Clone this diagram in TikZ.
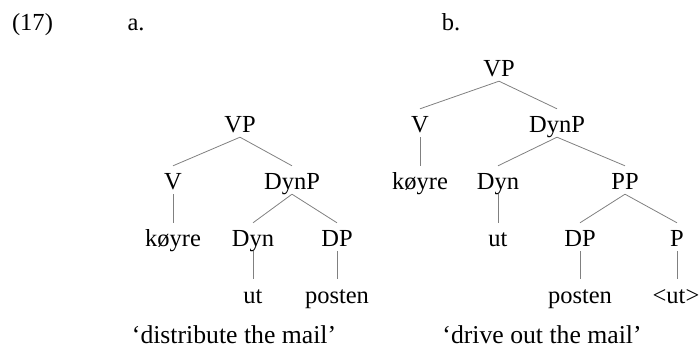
\documentclass[tikz,border=0pt]{standalone}
\usepackage{fontspec}
\setmainfont{Liberation Serif}
\begin{document}
\begin{tikzpicture}[x=1pt,y=-1pt,
  lbl/.style={anchor=base, inner sep=0pt, text height=24pt, text depth=4pt, font=\fontsize{24.5}{28}\selectfont},
  txt/.style={anchor=base, inner sep=0pt, font=\fontsize{24.5}{28}\selectfont},
  gloss/.style={anchor=base, inner sep=0pt, font=\fontsize{25.7}{30}\selectfont},
  br/.style={draw=gray, line width=0.8pt}]
\useasboundingbox (0,0) rectangle (700,352);
% headings
\node[txt] (ex) at (32.5,31) {(17)};
\node[txt] (la) at (136,31) {a.};
\node[txt] (lb) at (451,31) {b.};
% tree a
\node[lbl] (aVP) at (240,133) {VP};
\node[lbl] (aV) at (173,190) {V};
\node[lbl] (aDynP) at (292,190) {DynP};
\node[lbl] (akoyre) at (173,247) {køyre};
\node[lbl] (aDyn) at (253,247) {Dyn};
\node[lbl] (aDP) at (337,247) {DP};
\node[lbl] (aut) at (253,303) {ut};
\node[lbl] (aposten) at (337,303) {posten};
\node[gloss] (glossa) at (234,343) {‘distribute the mail’};
\draw[br] (aVP.south) -- (aV.north);
\draw[br] (aVP.south) -- (aDynP.north);
\draw[br] (aV.south) -- (akoyre.north);
\draw[br] (aDynP.south) -- (aDyn.north);
\draw[br] (aDynP.south) -- (aDP.north);
\draw[br] (aDyn.south) -- (aut.north);
\draw[br] (aDP.south) -- (aposten.north);
% tree b
\node[lbl] (bVP) at (499,77) {VP};
\node[lbl] (bV) at (420,133) {V};
\node[lbl] (bDynP) at (557,133) {DynP};
\node[lbl] (bkoyre) at (420,190) {køyre};
\node[lbl] (bDyn) at (498,190) {Dyn};
\node[lbl] (bPP) at (625,190) {PP};
\node[lbl] (but) at (498,247) {ut};
\node[lbl] (bDP) at (580,247) {DP};
\node[lbl] (bP) at (677,247) {P};
\node[lbl] (bposten) at (580,303) {posten};
\node[lbl] (bput) at (676,303) {<ut>};
\node[gloss] (glossb) at (542,343) {‘drive out the mail’};
\draw[br] (bVP.south) -- (bV.north);
\draw[br] (bVP.south) -- (bDynP.north);
\draw[br] (bV.south) -- (bkoyre.north);
\draw[br] (bDynP.south) -- (bDyn.north);
\draw[br] (bDynP.south) -- (bPP.north);
\draw[br] (bDyn.south) -- (but.north);
\draw[br] (bPP.south) -- (bDP.north);
\draw[br] (bPP.south) -- (bP.north);
\draw[br] (bDP.south) -- (bposten.north);
\draw[br] (bP.south) -- (bP.south |- bput.north);
\end{tikzpicture}
\end{document}
